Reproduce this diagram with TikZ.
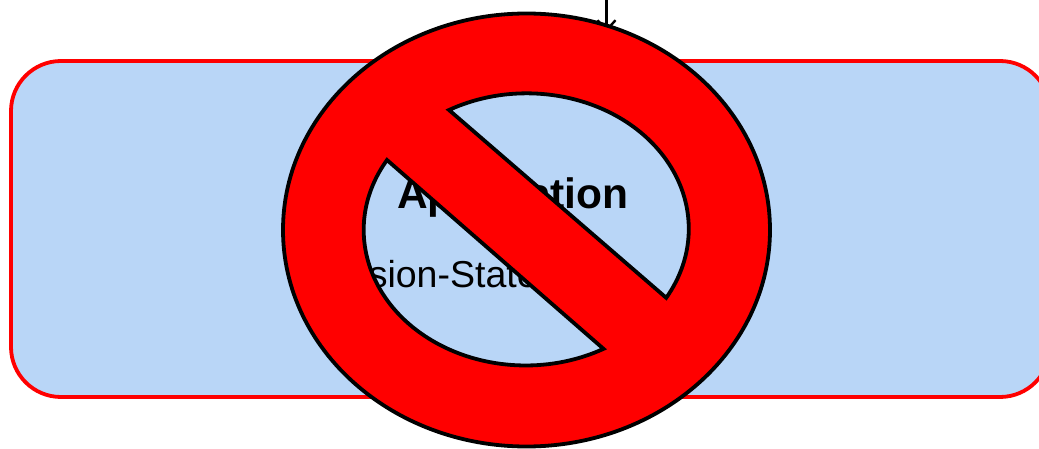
\documentclass[tikz,border=0pt]{standalone}
\usepackage{fontspec}
\setmainfont{Liberation Sans}
\usetikzlibrary{arrows.meta}
\definecolor{boxblue}{RGB}{185,214,247}
\tikzset{
  appbox/.style={draw=red,fill=boxblue,line width=3.8pt,rounded corners=50pt,minimum width=1039pt,minimum height=336pt,inner sep=0pt,anchor=center},
  titletext/.style={font=\fontsize{42.5}{42.5}\selectfont\bfseries,inner sep=0pt,anchor=base},
  subtext/.style={font=\fontsize{37.5}{37.5}\selectfont,inner sep=0pt,anchor=base west},
  flow/.style={draw=black,line width=3.4pt,-{Straight Barb[length=10pt,width=18pt,line width=2.4pt]}},
  nosign/.style={fill=red,draw=black,line width=3.8pt,even odd rule,line join=miter}
}
\begin{document}
\begin{tikzpicture}[x=1pt,y=1pt]
\useasboundingbox (0,0) rectangle (1039,448);
\clip (0,0) rectangle (1039,448);
\node[appbox] (app) at (530.5,219) {};
\coordinate (inTop) at (606.5,448);
\coordinate (inEnd) at (606.5,416);
\draw[flow] (inTop) -- (inEnd);
\node[titletext] (title) at (513,240) {Application};
\node[subtext] (sub) at (304,161) {Session-State};
\path[nosign]
  (770,218) arc[start angle=0,end angle=360,x radius=243.5,y radius=216.5] -- cycle
  (449,338) arc[start angle=118.7,end angle=-30.6,x radius=162,y radius=135.5] -- cycle
  (387,288) arc[start angle=148.9,end angle=298.7,x radius=162,y radius=135.5] -- cycle;
\end{tikzpicture}
\end{document}
